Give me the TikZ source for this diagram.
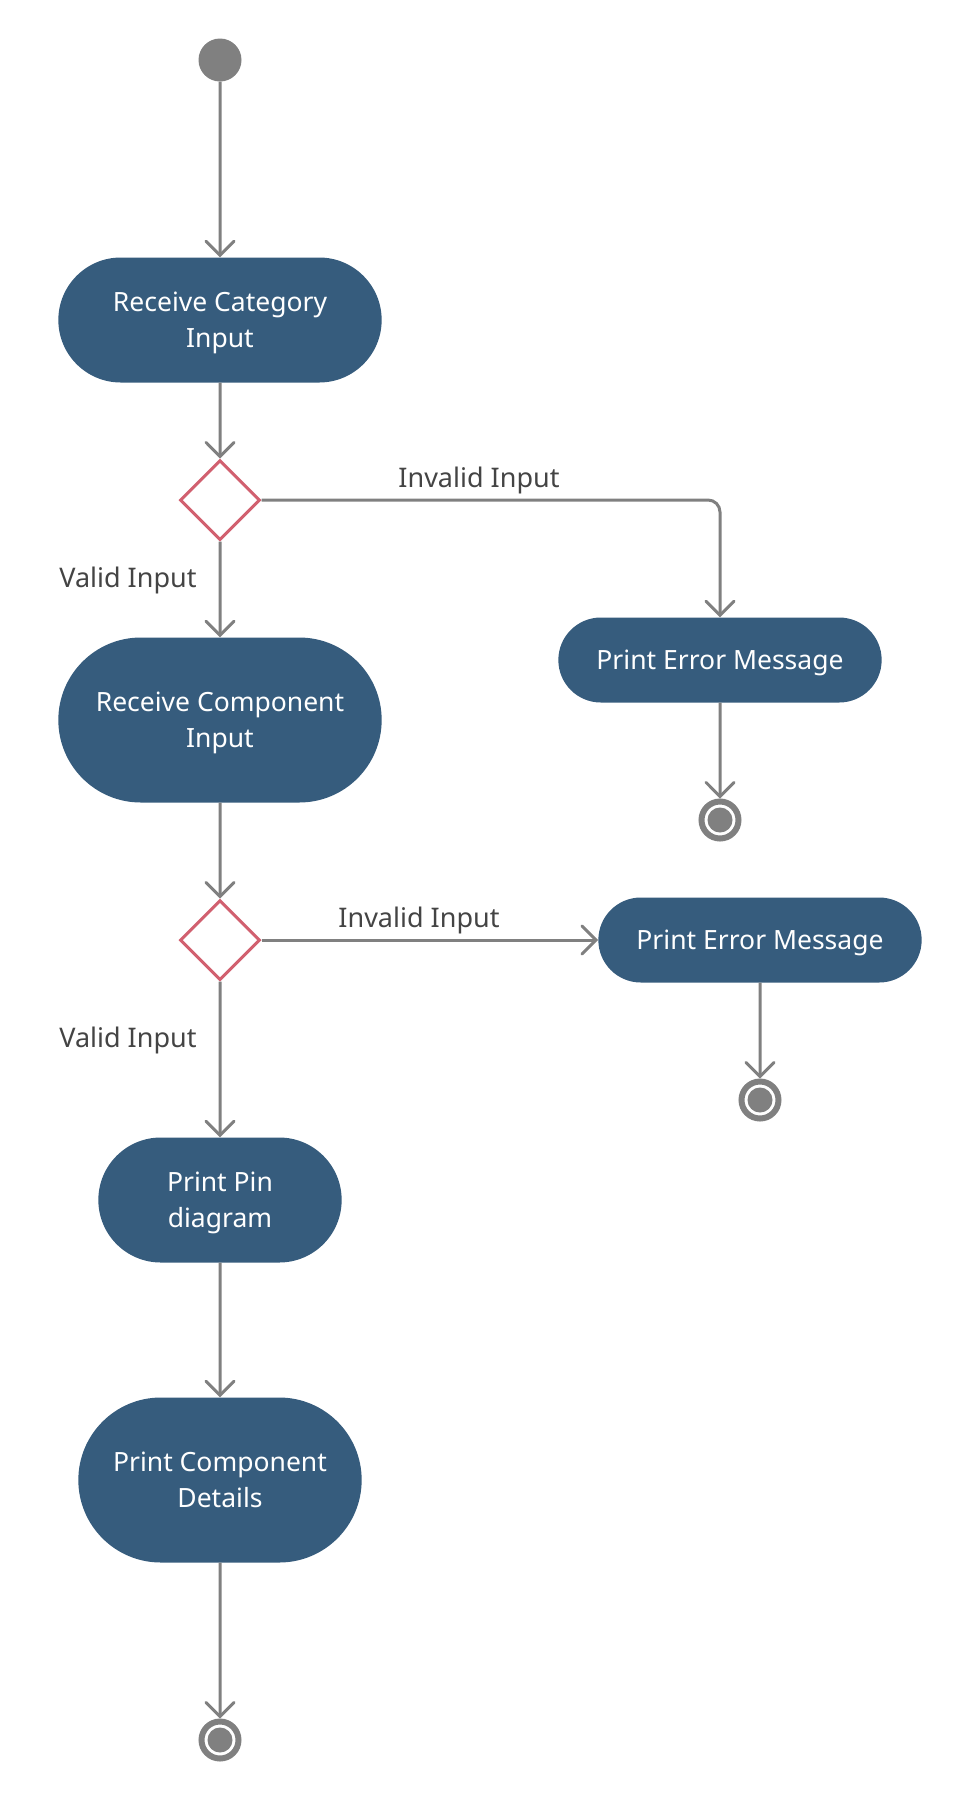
\documentclass[tikz,border=0pt]{standalone}
\usepackage{fontspec}
\setmainfont{Noto Sans}
\usepackage{tikz}
\usetikzlibrary{arrows.meta,shapes.geometric,shapes.misc}

\definecolor{boxblue}{HTML}{365C7D}
\definecolor{linegray}{HTML}{808080}
\definecolor{decred}{HTML}{D1606F}
\definecolor{labelgray}{HTML}{444444}

\begin{document}
\begin{tikzpicture}[x=1pt, y=-1pt,
    flow/.style={draw=linegray, line width=3pt,
      -{Straight Barb[length=14pt, width=28pt, line cap=round]}},
    action/.style={rounded rectangle, fill=boxblue, text=white, align=center,
      minimum height=125pt, text depth=0pt, font=\fontsize{26.5}{36}\selectfont},
    decision/.style={diamond, draw=decred, line width=3pt, fill=white,
      minimum width=80pt, minimum height=80pt, inner sep=0pt},
    startnode/.style={circle, fill=linegray, minimum size=43pt, inner sep=0pt},
    endnode/.style={circle, draw=linegray, line width=6pt, fill=white,
      minimum size=37pt, inner sep=0pt,
      path picture={\fill[linegray] (path picture bounding box.center) circle (12.5pt);}},
    guard/.style={text=labelgray, font=\fontsize{27}{32}\selectfont}]
    \useasboundingbox (0,0) rectangle (960,1800);
    % Category
    \node[startnode] (start) at (220,60) {};
    \node[action, minimum width=330pt] (cat) at (220,320) {Receive Category\\Input};
    \node[decision] (dcat) at (220,500) {};
    \node[action, minimum width=330pt, minimum height=85pt] (err1) at (720,660) {Print Error Message};
    \node[endnode] (end1) at (720,820) {};
    \node[guard] (inv1) at (479,480) {Invalid Input};
    \node[guard] (val1) at (128,580) {Valid Input};
    % Component
    \node[action, minimum width=330pt, minimum height=165pt] (comp) at (220,720) {Receive Component\\Input};
    \node[decision] (dcomp) at (220,940) {};
    \node[action, minimum width=330pt, minimum height=85pt] (err2) at (760,940) {Print Error Message};
    \node[endnode] (end2) at (760,1100) {};
    \node[guard] (inv2) at (419,920) {Invalid Input};
    \node[guard] (val2) at (128,1040) {Valid Input};
    % Output
    \node[action, minimum width=250pt] (pin) at (220,1200) {Print Pin\\diagram};
    \node[action, minimum width=290pt, minimum height=165pt] (det) at (220,1480) {Print Component\\Details};
    \node[endnode] (end3) at (220,1740) {};

    \draw[flow] (start) -- (cat);
    \draw[flow] (cat) -- (dcat);
    \draw[flow, rounded corners=12pt] (dcat.east) -| (err1.north);
    \draw[flow] (err1) -- (end1);
    \draw[flow] (dcat) -- (comp);
    \draw[flow] (comp) -- (dcomp);
    \draw[flow] (dcomp.east) -- (err2.west);
    \draw[flow] (err2) -- (end2);
    \draw[flow] (dcomp) -- (pin);
    \draw[flow] (pin) -- (det);
    \draw[flow] (det) -- (end3);
\end{tikzpicture}
\end{document}
